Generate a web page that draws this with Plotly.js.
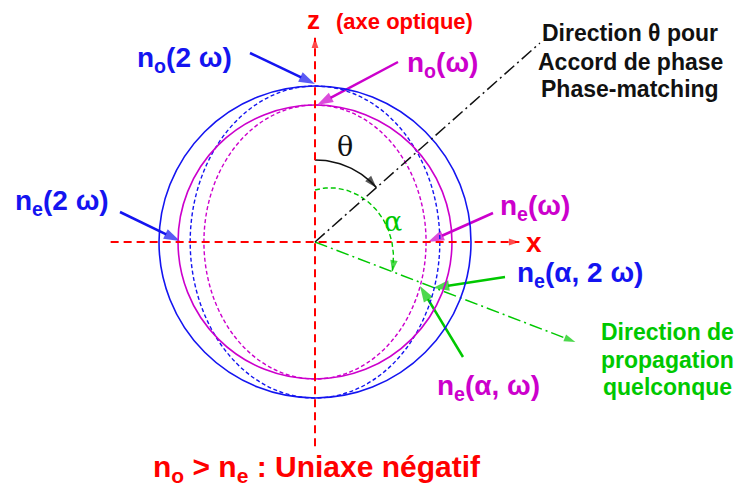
<!DOCTYPE html>
<html><head><meta charset="utf-8">
<script src="https://cdn.plot.ly/plotly-3.0.1.min.js"></script>
<style>html,body{margin:0;padding:0;background:#fff}</style>
</head><body><div id="chart" style="width:739px;height:486px"></div>
<script>
// ---- data: index surfaces (normalised units, n_o(2w) = 1) ----
const curveNames = ['n_o(2ω)', 'n_e(2ω)', 'n_o(ω)', 'n_e(ω)'];
const semiAxisX  = [1.00, 0.80, 0.878, 0.712];   // along x
const semiAxisZ  = [1.00, 1.00, 0.878, 0.878];   // along z (optic axis)
const curveDash  = ['solid', 'dashed', 'solid', 'dashed'];
const curveFreq  = ['2w', '2w', 'w', 'w'];
const thetaDeg   = [48.5];   // phase-matching direction (from z)
const alphaDeg   = [111];    // arbitrary propagation direction (from z)
const labelTexts = ['n<sub>o</sub>(2 ω)', 'n<sub>o</sub>(ω)', 'n<sub>e</sub>(2 ω)', 'n<sub>e</sub>(ω)',
                    'n<sub>e</sub>(α, 2 ω)', 'n<sub>e</sub>(α, ω)'];

// ---- layout helpers (pixel -> data) ----
const W = 739, H = 486, CX = 315, CY = 242, S = 156;
const X = p => (p - CX) / S, Y = q => (CY - q) / S;
const BLUE = '#1414f0', MAG = '#cc00cc', GREEN = '#00c800', RED = '#ff0000', BLACK = '#111111';
const FONT = 'Liberation Sans, Arial, sans-serif';
const rad = d => d * Math.PI / 180;

const shapes = [];
const annotations = [];
const traces = [];

// index curves
curveNames.forEach((n, i) => {
  const col = curveFreq[i] === '2w' ? BLUE : MAG;
  shapes.push({type: 'circle', xref: 'x', yref: 'y',
    x0: -semiAxisX[i], x1: semiAxisX[i], y0: -semiAxisZ[i], y1: semiAxisZ[i],
    line: {color: col, width: curveDash[i] === 'solid' ? 1.6 : 1.4,
           dash: curveDash[i] === 'solid' ? 'solid' : '4px,2.5px'}});
});

// generic line-with-arrowhead trace (arrowhead at last point)
function arrowLine(xs, ys, color, width, dash, headSize, sym) {
  const sizes = xs.map((_, k) => k === xs.length - 1 ? headSize : 0);
  traces.push({x: xs, y: ys, mode: 'lines+markers', hoverinfo: 'skip',
    line: {color: color, width: width, dash: dash || 'solid'},
    marker: {symbol: sym || 'arrow', size: sizes, angleref: 'previous', color: color,
             line: {width: 0}}});
}

// axes (red dashed)
const AX = 1.31;
shapes.push({type: 'line', xref: 'x', yref: 'y', x0: 0, x1: 0, y0: -AX, y1: AX - 0.04,
  line: {color: RED, width: 2, dash: '8px,5px'}});
shapes.push({type: 'line', xref: 'x', yref: 'y', x0: -AX, x1: AX - 0.04, y0: 0, y1: 0,
  line: {color: RED, width: 2, dash: '8px,5px'}});
arrowLine([0, 0], [AX - 0.03, AX], RED, 2, 'solid', 11);
arrowLine([AX - 0.03, AX], [0, 0], RED, 2, 'solid', 11);

// phase-matching direction (black dash-dot)
const th = rad(thetaDeg[0]);
const LT = 1.925;
shapes.push({type: 'line', xref: 'x', yref: 'y', x0: 0, y0: 0, x1: LT * Math.sin(th), y1: LT * Math.cos(th),
  line: {color: BLACK, width: 1.5, dash: '13px,4px,2px,4px'}});

// arbitrary direction (green dash-dot, arrow)
const al = rad(alphaDeg[0]);
const LA = 1.788;
arrowLine([0, LA * Math.sin(al)], [0, LA * Math.cos(al)], GREEN, 1.5, '13px,4px,2px,4px', 12);

// theta arc
const rT = 0.526, tArcX = [], tArcY = [];
for (let k = 0; k <= 40; k++) { const p = th * k / 40; tArcX.push(rT * Math.sin(p)); tArcY.push(rT * Math.cos(p)); }
arrowLine(tArcX, tArcY, BLACK, 1.5, 'solid', 13);

// alpha arc (green dashed, slightly widening)
const r0 = 0.333, r1 = 0.53, aArcX = [], aArcY = [];
for (let k = 0; k <= 60; k++) { const p = al * k / 60, r = r0 + (r1 - r0) * k / 60; aArcX.push(r * Math.sin(p)); aArcY.push(r * Math.cos(p)); }
arrowLine(aArcX, aArcY, GREEN, 1.4, '5px,3px', 12);

// label arrows (tail -> tip)
arrowLine([X(250), X(315)], [Y(53), Y(84)], BLUE, 2.5, 'solid', 17);     // no(2w)
arrowLine([X(398), X(317)], [Y(62), Y(105)], MAG, 2.5, 'solid', 17);     // no(w)
arrowLine([X(120), X(180)], [Y(212), Y(241)], BLUE, 2.5, 'solid', 17);   // ne(2w)
arrowLine([X(493), X(428)], [Y(213), Y(242)], MAG, 2.5, 'solid', 17);    // ne(w)
arrowLine([X(505), X(433)], [Y(277), Y(288)], GREEN, 2.5, 'solid', 17);  // ne(a,2w)
arrowLine([X(463), X(420)], [Y(357), Y(286)], GREEN, 2.5, 'solid', 17);  // ne(a,w)

function label(px, py, text, color, size, family) {
  annotations.push({x: X(px), y: Y(py), xref: 'x', yref: 'y', text: text, showarrow: false,
    xanchor: 'center', yanchor: 'middle', font: {family: family || FONT, size: size, color: color}});
}
label(184, 59, '<b>' + labelTexts[0] + '</b>', BLUE, 28);
label(442, 64, '<b>' + labelTexts[1] + '</b>', MAG, 28);
label(62, 202, '<b>' + labelTexts[2] + '</b>', BLUE, 28);
label(535, 207, '<b>' + labelTexts[3] + '</b>', MAG, 28);
label(580, 274, '<b>' + labelTexts[4] + '</b>', BLUE, 28);
label(488, 387, '<b>' + labelTexts[5] + '</b>', MAG, 28);
label(313, 20, '<b>z</b>', RED, 26);
label(404, 21, '<b>(axe optique)</b>', RED, 22);
label(534, 242, '<b>x</b>', RED, 28);
label(345, 146, 'θ', BLACK, 27, 'DejaVu Serif, serif');
label(393, 221, 'α', GREEN, 27, 'DejaVu Serif, serif');
label(630, 33, '<b>Direction θ pour</b>', BLACK, 23);
label(630, 62, '<b>Accord de phase</b>', BLACK, 23);
label(630, 89, '<b>Phase-matching</b>', BLACK, 23);
label(667, 332, '<b>Direction de</b>', GREEN, 23);
label(667, 360, '<b>propagation</b>', GREEN, 23);
label(667, 387, '<b>quelconque</b>', GREEN, 23);
label(317, 468, '<b>n<sub>o</sub> &gt; n<sub>e</sub> : Uniaxe négatif</b>', RED, 30);

const layout = {
  width: W, height: H, margin: {l: 0, r: 0, t: 0, b: 0},
  paper_bgcolor: '#fff', plot_bgcolor: '#fff', showlegend: false,
  xaxis: {range: [X(0), X(W)], visible: false, fixedrange: true},
  yaxis: {range: [Y(H), Y(0)], visible: false, fixedrange: true},
  shapes: shapes, annotations: annotations
};
Plotly.newPlot('chart', traces, layout, {staticPlot: true, displayModeBar: false});
</script></body></html>
